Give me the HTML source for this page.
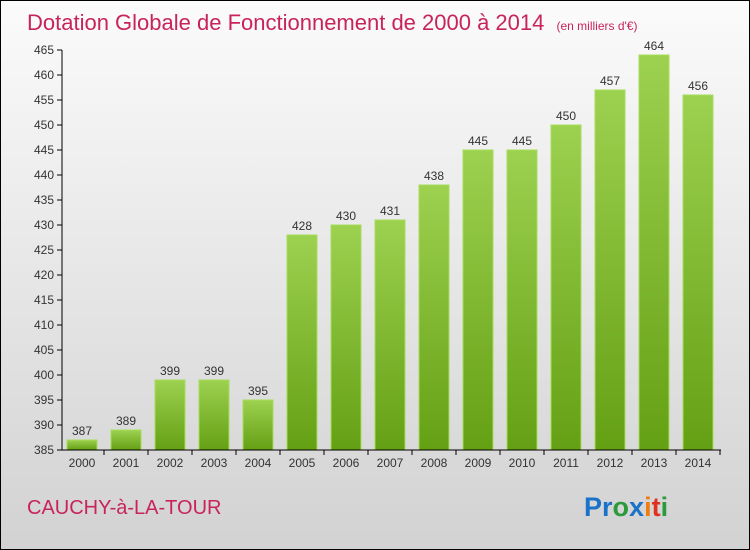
<!DOCTYPE html>
<html><head><meta charset="utf-8"><style>
body{margin:0}
#c{width:748px;height:548px;border:1px solid #000;background:linear-gradient(#fbfbfb,#d2d2d2);position:relative;font-family:"Liberation Sans",sans-serif;overflow:hidden}
</style></head><body>
<div id="c">
<svg width="748" height="548">
<defs><linearGradient id="g" x1="0" y1="0" x2="0" y2="1"><stop offset="0" stop-color="#9dd150"/><stop offset="1" stop-color="#64a014"/></linearGradient></defs>
<text x="26" y="29" font-size="22" fill="#c8245a">Dotation Globale de Fonctionnement de 2000 à 2014 <tspan font-size="12" dx="6">(en milliers d'€)</tspan></text>
<text x="26" y="513" font-size="20" fill="#c8245a">CAUCHY-à-LA-TOUR</text>
<text x="583" y="515" font-size="27" font-weight="bold"><tspan fill="#1a73c8">Pr</tspan><tspan fill="#2a9a3a">o</tspan><tspan fill="#1a73c8">x</tspan><tspan fill="#f07c10">i</tspan><tspan fill="#e03020">t</tspan><tspan fill="#2a9a3a">i</tspan></text>
<g id="plot"></g>
</svg></div>
<script>
const years=["2000","2001","2002","2003","2004","2005","2006","2007","2008","2009","2010","2011","2012","2013","2014"];
const values=[387,389,399,399,395,428,430,431,438,445,445,450,457,464,456];
const yTicks=[385,390,395,400,405,410,415,420,425,430,435,440,445,450,455,460,465];
const NS="http://www.w3.org/2000/svg";
const g=document.getElementById('plot');
const y=v=>449-(v-385)*5;
const x=i=>81+i*44;
function mk(t,a){const e=document.createElementNS(NS,t);for(const k in a)e.setAttribute(k,a[k]);g.appendChild(e);return e;}
yTicks.forEach(v=>{
 const l=mk('line',{x1:56,x2:61,y1:y(v),y2:y(v),stroke:'#000'});
 
 
 const t=mk('text',{x:53,y:y(v)+4,'font-size':12,'text-anchor':'end',fill:'#333'});
 t.textContent=v;
 
 
});
values.forEach((v,i)=>{
 const r=mk('rect',{x:x(i)-15,y:y(v),width:30,height:449-y(v),fill:'url(#g)',stroke:'#a8dc5a','stroke-width':1});
 
 
 const t=mk('text',{x:x(i),y:y(v)-5,'font-size':12,'text-anchor':'middle',fill:'#333'});
 t.textContent=v;
 
 
 const k=mk('line',{x1:x(i)+22,x2:x(i)+22,y1:449,y2:454,stroke:'#000'});
 
 
 const xl=mk('text',{x:x(i),y:466,'font-size':12,'text-anchor':'middle',fill:'#333'});
 xl.textContent=years[i];
 
 
});
const ya=mk('line',{x1:61,x2:61,y1:y(465),y2:449,stroke:'#000'});


const xa=mk('line',{x1:61,x2:720,y1:449,y2:449,stroke:'#000'});


</script>
</body></html>
